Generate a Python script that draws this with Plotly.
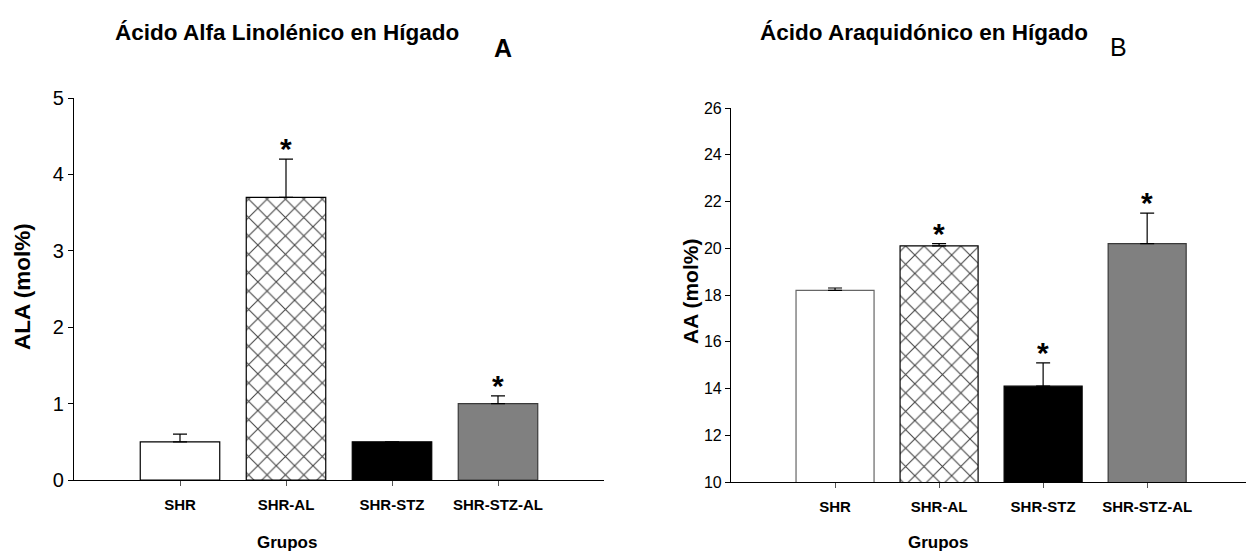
import plotly.graph_objects as go

groups = ["SHR", "SHR-AL", "SHR-STZ", "SHR-STZ-AL"]
ala_mean = [0.5, 3.7, 0.5, 1.0]
ala_err = [0.1, 0.5, 0.0, 0.1]
ala_sig = [False, True, False, True]
aa_mean = [18.2, 20.1, 14.1, 20.2]
aa_err = [0.1, 0.1, 1.0, 1.3]
aa_sig = [False, True, True, True]

fills = ["white", "white", "black", "#808080"]
patterns = ["", "x", "", ""]
FONT = "Liberation Sans, Arial, sans-serif"
W, H = 1246, 551

def px(x):
    return x / W

def py(y):
    return 1 - y / H

fig = go.Figure()

def add_bars(xa, ya, means, errs, lines):
    fig.add_trace(go.Bar(
        x=groups, y=means, xaxis=xa, yaxis=ya, width=0.75,
        marker=dict(color=fills, line=dict(color=lines, width=1.2),
                    pattern=dict(shape=patterns, fgcolor="black", bgcolor=fills,
                                 fgopacity=1, size=13, solidity=0.16)),
        error_y=dict(type="data", symmetric=False, array=errs,
                     arrayminus=[0] * len(errs), color="black",
                     thickness=1.2, width=7),
        showlegend=False, hoverinfo="skip"))

add_bars("x", "y", ala_mean, ala_err, ["black", "black", "black", "#3a3a3a"])
add_bars("x2", "y2", aa_mean, aa_err, ["#666666", "black", "black", "#3a3a3a"])

ann = []
for g, m, e, s in zip(groups, ala_mean, ala_err, ala_sig):
    if s:
        ann.append(dict(x=g, y=m + e, xref="x", yref="y", text="<b>*</b>",
                        showarrow=False, yanchor="bottom", yshift=-8,
                        font=dict(size=30, color="black", family=FONT)))
for g, m, e, s in zip(groups, aa_mean, aa_err, aa_sig):
    if s:
        ann.append(dict(x=g, y=m + e, xref="x2", yref="y2", text="<b>*</b>",
                        showarrow=False, yanchor="bottom", yshift=-8,
                        font=dict(size=30, color="black", family=FONT)))

def txt(text, x, y, size, bold=True, angle=0):
    t = "<b>%s</b>" % text if bold else text
    ann.append(dict(text=t, x=px(x), y=py(y), xref="paper", yref="paper",
                    showarrow=False, xanchor="center", yanchor="middle",
                    textangle=angle, font=dict(size=size, color="black", family=FONT)))

txt("Ácido Alfa Linolénico en Hígado", 287, 33, 22.5)
txt("A", 503, 48, 25)
txt("Ácido Araquidónico en Hígado", 924, 33, 22.5)
txt("B", 1118, 47, 25, bold=False)
txt("ALA (mol%)", 22, 287, 22.5, angle=-90)
txt("AA (mol%)", 690, 292, 21, angle=-90)
txt("Grupos", 287, 542, 17)
txt("Grupos", 938, 542, 17)

axis_common = dict(showgrid=False, zeroline=False, showline=True, linecolor="black",
                   linewidth=1.2, ticks="outside", mirror=False, automargin=False)

fig.update_layout(
    width=W, height=H, margin=dict(l=0, r=0, t=0, b=0, pad=0, autoexpand=False),
    paper_bgcolor="white", plot_bgcolor="white",
    font=dict(family=FONT, color="black"),
    xaxis=dict(axis_common, domain=[px(74), px(604)], range=[-1, 4], type="category",
               categoryorder="array", categoryarray=groups, anchor="y",
               ticklen=5, tickcolor="#555555", ticklabelstandoff=6,
               tickprefix="<b>", ticksuffix="</b>",
               tickfont=dict(size=15, family=FONT)),
    yaxis=dict(axis_common, domain=[py(480), py(98)], range=[0, 5], anchor="x",
               tickvals=[0, 1, 2, 3, 4, 5], ticklen=5, tickcolor="black",
               tickfont=dict(size=20, family=FONT)),
    xaxis2=dict(axis_common, domain=[px(731), 1.0], range=[-1, 3.95], type="category",
                categoryorder="array", categoryarray=groups, anchor="y2",
                ticklen=5, tickcolor="#555555", ticklabelstandoff=6,
                tickprefix="<b>", ticksuffix="</b>",
                tickfont=dict(size=15, family=FONT)),
    yaxis2=dict(axis_common, domain=[py(482), py(108)], range=[10, 26], anchor="x2",
                tickvals=list(range(10, 27, 2)), ticklen=5, tickcolor="black",
                tickfont=dict(size=16, family=FONT)),
    annotations=ann, bargap=0.25,
)

fig.write_html("out.html")
